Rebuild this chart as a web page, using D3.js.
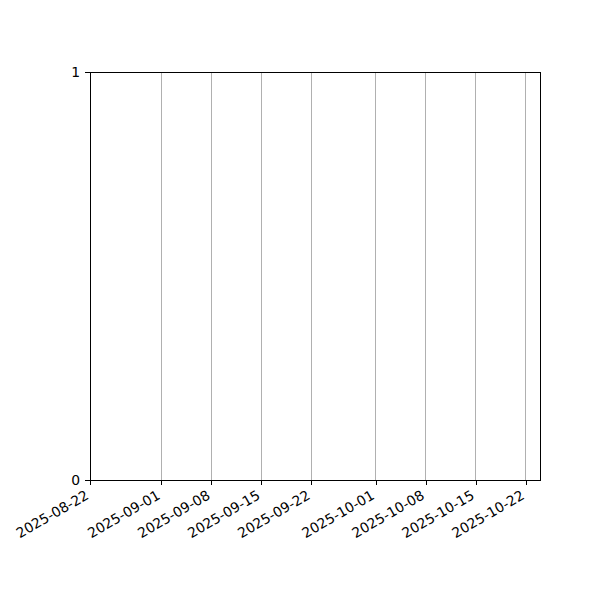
<!doctype html>
<html>
  <head>
    <script src="https://d3js.org/d3.v7.min.js"></script>
    <style>
      body { margin: 0; background: #fff; }
      .tick text { font-family: "DejaVu Sans", sans-serif; font-size: 13.9px; fill: #000; }
      line, rect { shape-rendering: crispEdges; }
    </style>
  </head>
  <body>
    <svg id="chart" width="600" height="600"></svg>
    <script>
      // x range of the axes and the date ticks shown
      var xDomain = ["2025-08-22", "2025-10-24"];
      var dateTicks = ["2025-08-22", "2025-09-01", "2025-09-08", "2025-09-15", "2025-09-22",
                       "2025-10-01", "2025-10-08", "2025-10-15", "2025-10-22"];
      var yDomain = [0, 1];
      var yTicks = [0, 1];

      var parse = d3.utcParse("%Y-%m-%d");
      var fmt = d3.utcFormat("%Y-%m-%d");

      var plotLeft = 90, plotRight = 540, plotTop = 72, plotBottom = 480;

      var svg = d3.select("svg#chart");

      var x = d3.scaleUtc().domain(xDomain.map(parse)).range([plotLeft, plotRight]);
      var y = d3.scaleLinear().domain(yDomain).range([plotBottom, plotTop]);

      // vertical grid
      svg.append("g")
        .selectAll("line")
        .data(dateTicks.map(parse))
        .enter()
        .append("line")
        .attr("x1", d => x(d)).attr("x2", d => x(d))
        .attr("y1", plotTop).attr("y2", plotBottom)
        .attr("stroke", "#b0b0b0")
        .attr("stroke-width", 1);

      var xAxis = svg.append("g")
        .attr("transform", "translate(0," + plotBottom + ")")
        .call(d3.axisBottom(x).tickValues(dateTicks.map(parse)).tickFormat(fmt).tickSize(4.9).tickPadding(4));
      xAxis.select(".domain").remove();
      xAxis.selectAll(".tick line").attr("stroke", "#000").attr("stroke-width", 1);
      xAxis.selectAll(".tick text")
        .attr("text-anchor", "end")
        .attr("y", 0)
        .attr("dy", "0.75em")
        .attr("transform", "translate(-6,9) rotate(-30)");

      var yAxis = svg.append("g")
        .attr("transform", "translate(" + plotLeft + ",0)")
        .call(d3.axisLeft(y).tickValues(yTicks).tickFormat(d3.format("d")).tickSize(4.9).tickPadding(4.9));
      yAxis.select(".domain").remove();
      yAxis.selectAll(".tick line").attr("stroke", "#000").attr("stroke-width", 1);

      // frame
      svg.append("rect")
        .attr("x", plotLeft).attr("y", plotTop)
        .attr("width", plotRight - plotLeft).attr("height", plotBottom - plotTop)
        .attr("fill", "none")
        .attr("stroke", "#000")
        .attr("stroke-width", 1);
    </script>
  </body>
</html>
